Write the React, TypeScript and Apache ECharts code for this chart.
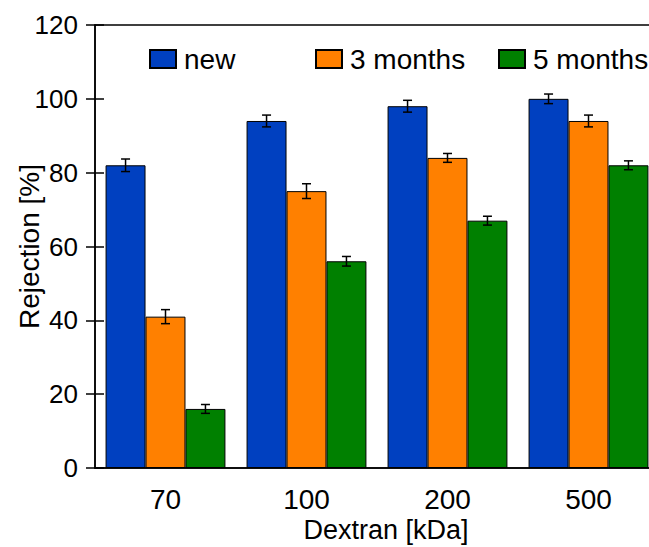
import React, { useEffect, useRef } from "react";
import * as echarts from "echarts";

const categories = ["70", "100", "200", "500"];
const seriesNames = ["new", "3 months", "5 months"];
const newVals = [82, 94, 98, 100];
const m3Vals = [41, 75, 84, 94];
const m5Vals = [16, 56, 67, 82];
const newErr = [1.7, 1.6, 1.6, 1.3];
const m3Err = [1.9, 2.0, 1.2, 1.6];
const m5Err = [1.2, 1.3, 1.2, 1.2];
const yMin = 0;
const yMax = 120;
const yInterval = 20;
const colors = ["#0040C0", "#FF8000", "#008000"];

const FONT = "'Liberation Sans', Arial, sans-serif";

export default function App() {
  const ref = useRef<HTMLDivElement>(null);
  useEffect(() => {
    document.body.style.margin = "0";
    if (!ref.current) return;
    const chart = echarts.init(ref.current, null, { renderer: "svg" });
    const vals = [newVals, m3Vals, m5Vals];
    const errs = [newErr, m3Err, m5Err];
    const errData: number[][] = [];
    vals.forEach((arr, k) =>
      arr.forEach((v, i) => errData.push([i, v, errs[k][i], k]))
    );
    const barSeries = seriesNames.map((name, k) => ({
      name,
      type: "bar",
      data: vals[k],
      xAxisIndex: 0,
      yAxisIndex: 0,
      barGap: "0%",
      barCategoryGap: "15%",
      itemStyle: { color: colors[k], borderColor: "#000", borderWidth: 1 },
      z: 2,
    }));
    const legendLefts = [149, 315, 498];
    const option: any = {
      animation: false,
      textStyle: { fontFamily: FONT },
      grid: {
        left: 95,
        top: 25,
        right: -10,
        bottom: 79,
        show: true,
        borderColor: "#000",
        borderWidth: 1.5,
        backgroundColor: "transparent",
        containLabel: false,
        outerBoundsMode: "none",
      },
      legend: seriesNames.map((n, k) => ({
        data: [n],
        left: legendLefts[k],
        top: 45,
        padding: 0,
        icon: "rect",
        itemWidth: 26,
        itemHeight: 18,
        selectedMode: false,
        textStyle: { fontSize: 28, color: "#000", fontFamily: FONT, padding: [0, 0, 0, 3] },
      })),
      xAxis: [
        {
          type: "category",
          data: categories,
          position: "bottom",
          name: "Dextran [kDa]",
          nameLocation: "middle",
          nameGap: 48,
          nameMoveOverlap: false,
          nameTextStyle: { fontSize: 27, color: "#000", fontFamily: FONT, padding: [0, 0, 0, 18] },
          axisLine: { lineStyle: { color: "#000", width: 1.5 } },
          axisTick: { alignWithLabel: true, length: 9, lineStyle: { color: "#000", width: 1.5 } },
          axisLabel: { fontSize: 28, color: "#000", margin: 17, fontFamily: FONT },
        },
        {
          type: "category",
          data: categories,
          position: "bottom",
          axisLine: { show: false },
          axisTick: { alignWithLabel: true, inside: true, length: 9, lineStyle: { color: "#000", width: 1.5 } },
          axisLabel: { show: false },
          splitLine: { show: false },
        },
      ],
      yAxis: [
        {
          type: "value",
          min: yMin,
          max: yMax,
          interval: yInterval,
          position: "left",
          name: "Rejection [%]",
          nameLocation: "middle",
          nameGap: 52,
          nameMoveOverlap: false,
          nameTextStyle: { fontSize: 28, color: "#000", fontFamily: FONT },
          axisLine: { show: true, lineStyle: { color: "#000", width: 1.5 } },
          axisTick: { show: true, length: 9, lineStyle: { color: "#000", width: 1.5 } },
          axisLabel: { fontSize: 26, color: "#000", margin: 17, fontFamily: FONT },
          splitLine: { show: false },
        },
        {
          type: "value",
          min: yMin,
          max: yMax,
          interval: yInterval,
          position: "left",
          axisLine: { show: false },
          axisTick: { show: true, inside: true, length: 9, lineStyle: { color: "#000", width: 1.5 } },
          axisLabel: { show: false },
          splitLine: { show: false },
        },
      ],
      series: [
        ...barSeries,
        {
          type: "custom",
          name: "err",
          xAxisIndex: 0,
          yAxisIndex: 0,
          z: 5,
          data: errData,
          renderItem: (params: any, api: any) => {
            const cat = api.value(0);
            const val = api.value(1);
            const err = api.value(2);
            const k = api.value(3);
            const band = api.size([1, 0])[0];
            const bw = (band * 0.85) / 3;
            const c = api.coord([cat, val]);
            const x = c[0] + (k - 1) * bw;
            const yt = api.coord([cat, val + err])[1];
            const yb = api.coord([cat, val - err])[1];
            const hw = 4.5;
            const st = { stroke: "#000", lineWidth: 1.5 };
            return {
              type: "group",
              children: [
                { type: "line", shape: { x1: x, y1: yt, x2: x, y2: yb }, style: st },
                { type: "line", shape: { x1: x - hw, y1: yt, x2: x + hw, y2: yt }, style: st },
                { type: "line", shape: { x1: x - hw, y1: yb, x2: x + hw, y2: yb }, style: st },
              ],
            };
          },
        },
      ],
    };
    chart.setOption(option);
    return () => chart.dispose();
  }, []);
  return <div ref={ref} style={{ width: 649, height: 547 }} />;
}
